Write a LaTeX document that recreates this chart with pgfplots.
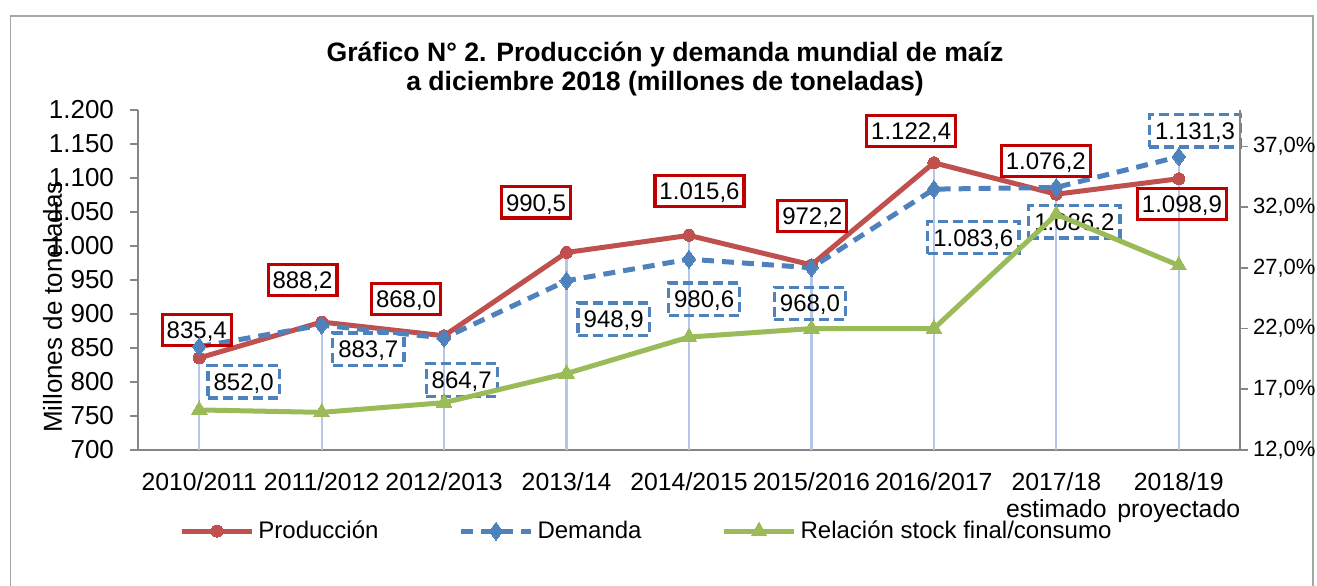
\documentclass[border=0pt]{standalone}
\usepackage{fontspec}
\setmainfont{Liberation Sans}
\usepackage{pgfplots}
\usepackage{pgfplotstable}
\pgfplotsset{compat=1.18}

\definecolor{prodred}{HTML}{C0504D}
\definecolor{demblue}{HTML}{4F81BD}
\definecolor{stockgreen}{HTML}{9BBB59}
\definecolor{boxred}{HTML}{C00000}
\definecolor{dropblue}{HTML}{B4C7E7}
\definecolor{axgray}{HTML}{868686}
\definecolor{framegray}{HTML}{A6A6A6}

\pgfplotstableread{
x prod dem top
0 835.4 852.0 852.0
1 888.2 883.7 888.2
2 868.0 864.7 868.0
3 990.5 948.9 990.5
4 1015.6 980.6 1015.6
5 972.2 968.0 972.2
6 1122.4 1083.6 1122.4
7 1076.2 1086.2 1086.2
8 1098.9 1131.3 1131.3
}\maindata

\pgfplotstableread{
x ratio
0 15.3
1 15.1
2 15.9
3 18.3
4 21.3
5 22.0
6 22.0
7 31.4
8 27.2
}\stockdata

\tikzset{
  redbox/.style={draw=boxred, line width=1.6pt, inner xsep=2.2pt, inner ysep=0pt,
    minimum height=15.6pt, text height=8.6pt, text depth=0pt,
    font=\fontsize{12}{13}\selectfont},
  bluebox/.style={draw=demblue, line width=1.6pt, dash pattern=on 5pt off 2.5pt,
    inner xsep=2.8pt, inner ysep=0pt,
    minimum height=16.2pt, text height=8.6pt, text depth=0pt,
    font=\fontsize{12}{13}\selectfont},
}

\begin{document}
\begin{tikzpicture}
\draw[framegray, line width=0.75pt] (5.25pt,-5pt) -- (5.25pt,284.5pt) -- (656.5pt,284.5pt) -- (656.5pt,-5pt);

\node[font=\bfseries\fontsize{13.3}{14.5}\selectfont, align=center] at (332.5pt,257.75pt)
  {Gráfico N° 2. Producción y demanda mundial de maíz\\a diciembre 2018 (millones de toneladas)};

\begin{axis}[
  at={(69pt,67.5pt)}, anchor=south west,
  width=551pt, height=170pt, scale only axis,
  xmin=-0.5, xmax=8.5, ymin=700, ymax=1200,
  ytick={700,750,...,1200},
  xtick={0,...,8},
  xticklabels={2010/2011,2011/2012,2012/2013,2013/14,2014/2015,2015/2016,2016/2017,{2017/18\\estimado},{2018/19\\proyectado}},
  axis x line*=bottom, axis y line*=left,
  axis line style={axgray, line width=0.9pt, -},
  tick align=outside, major tick length=4pt,
  ytick style={axgray, line width=0.9pt},
  xtick style={draw=none},
  /pgf/number format/1000 sep={.},
  /pgf/number format/assume math mode=true,
  yticklabel style={font=\fontsize{13}{15}\selectfont, xshift=-4.5pt},
  xticklabel style={font=\fontsize{12.4}{13.6}\selectfont, align=center, yshift=-3.5pt},
  ylabel={Millones de toneladas},
  ylabel style={at={(axis description cs:-0.0775,0.42)}, anchor=center, font=\fontsize{13}{15}\selectfont},
  legend columns=3,
  legend style={at={(axis description cs:0.4623,-0.2384)}, anchor=center, draw=none, fill=none,
    font=\fontsize{12}{14}\selectfont,
    /tikz/every even column/.append style={column sep=38pt}},
  legend image code/.code={\draw[mark repeat=2, mark phase=2] plot coordinates {(0pt,0pt) (17.5pt,0pt) (35pt,0pt)};},
  clip=false,
]
\addplot[ycomb, dropblue, line width=1.1pt, forget plot] table[x=x, y=top] {\maindata};
\addplot[prodred, line width=2.5pt, mark=*, mark size=3pt, mark options={solid, fill=prodred, draw=prodred, line width=0pt}] table[x=x, y=prod] {\maindata};
\addlegendentry{Producción}
\addplot[demblue, line width=2.5pt, dash pattern=on 6pt off 4pt, mark=diamond*, mark size=4.5pt, mark options={solid, fill=demblue, draw=demblue, line width=0pt}] table[x=x, y=dem] {\maindata};
\addlegendentry{Demanda}
\addlegendimage{stockgreen, line width=2.5pt, mark=triangle*, mark size=4.5pt, mark options={solid, fill=stockgreen, draw=stockgreen, line width=0pt}}
\addlegendentry{Relación stock final/consumo}

\node[redbox] at (axis cs:-0.02,876.5) {835,4};
\node[redbox] at (axis cs:0.844,950) {888,2};
\node[redbox] at (axis cs:1.689,922.4) {868,0};
\node[redbox] at (axis cs:2.751,1064) {990,5};
\node[redbox] at (axis cs:4.086,1080.6) {1.015,6};
\node[redbox] at (axis cs:5.007,1043.7) {972,2};
\node[redbox] at (axis cs:5.815,1169) {1.122,4};
\node[redbox] at (axis cs:6.914,1125) {1.076,2};
\node[redbox] at (axis cs:8.026,1061.8) {1.098,9};

\node[bluebox] at (axis cs:0.363,800.4) {852,0};
\node[bluebox] at (axis cs:1.381,848.2) {883,7};
\node[bluebox] at (axis cs:2.144,802.9) {864,7};
\node[bluebox] at (axis cs:3.385,892.4) {948,9};
\node[bluebox] at (axis cs:4.124,921.8) {980,6};
\node[bluebox] at (axis cs:4.988,915.7) {968,0};
\node[bluebox] at (axis cs:6.322,1012.5) {1.083,6};
\node[bluebox] at (axis cs:7.147,1035.7) {1.086,2};
\node[bluebox] at (axis cs:8.133,1169.4) {1.131,3};
\end{axis}

\begin{axis}[
  at={(69pt,67.5pt)}, anchor=south west,
  width=551pt, height=170pt, scale only axis,
  xmin=-0.5, xmax=8.5, ymin=12, ymax=40,
  axis x line=none, axis y line*=right,
  axis line style={axgray, line width=0.9pt, -},
  tick align=outside, major tick length=4pt,
  ytick style={axgray, line width=0.9pt},
  ytick={12,17,22,27,32,37},
  yticklabel={\pgfmathprintnumber{\tick}\%},
  /pgf/number format/fixed, /pgf/number format/fixed zerofill,
  /pgf/number format/precision=1, /pgf/number format/use comma,
  /pgf/number format/assume math mode=true,
  yticklabel style={font=\fontsize{11}{13}\selectfont, xshift=-1pt},
  clip=false,
]
\addplot[stockgreen, line width=2.5pt, mark=triangle*, mark size=4.5pt, mark options={solid, fill=stockgreen, draw=stockgreen, line width=0pt}] table[x=x, y=ratio] {\stockdata};
\end{axis}

\pgfresetboundingbox
\useasboundingbox (0,0) rectangle (658.5pt,292.5pt);
\end{tikzpicture}
\end{document}
